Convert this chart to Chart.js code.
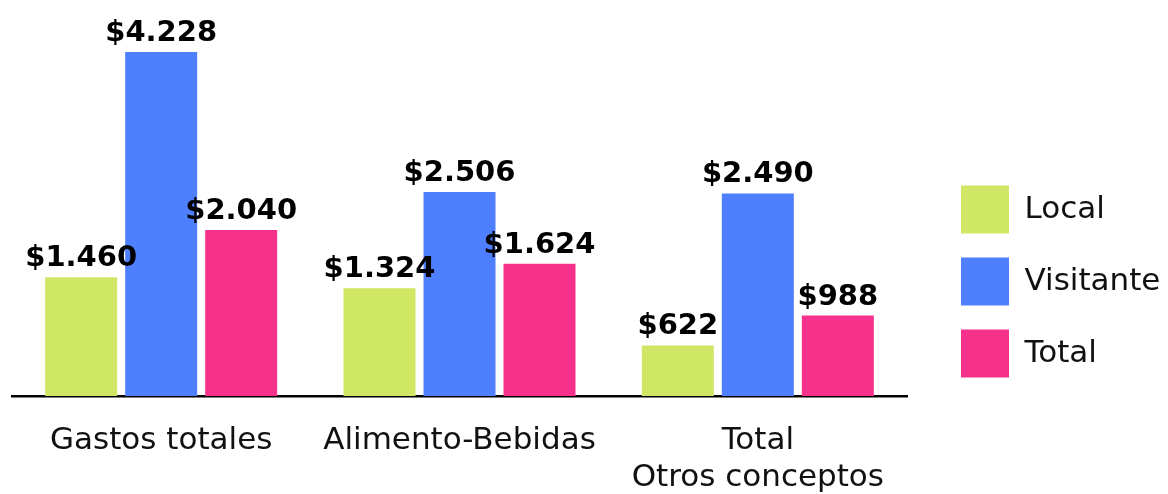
<!DOCTYPE html>
<html>
<head>
<meta charset="utf-8">
<script src="https://cdn.jsdelivr.net/npm/chart.js@4"></script>
<style>
  html, body { margin: 0; padding: 0; background: #fff; }
  #wrap { width: 1168px; height: 494px; position: relative; }
</style>
</head>
<body>
<div id="wrap"><canvas id="c" width="1168" height="494"></canvas></div>
<script>
const categories = ['Gastos totales', 'Alimento-Bebidas', ['Total', 'Otros conceptos']];
const seriesNames = ['Local', 'Visitante', 'Total'];
const localValues = [1460, 1324, 622];
const visitanteValues = [4228, 2506, 2490];
const totalValues = [2040, 1624, 988];
const seriesColors = ['#D0E665', '#4E7FFF', '#F6318B'];

const FONT = "'DejaVu Sans', sans-serif";

function fmt(v) {
  return '$' + String(v).replace(/\B(?=(\d{3})+(?!\d))/g, '.');
}

const valueLabels = {
  id: 'valueLabels',
  afterDatasetsDraw(chart) {
    const ctx = chart.ctx;
    ctx.save();
    ctx.font = 'bold 29px ' + FONT;
    ctx.fillStyle = '#000';
    ctx.textAlign = 'center';
    ctx.textBaseline = 'alphabetic';
    chart.data.datasets.forEach((ds, i) => {
      const meta = chart.getDatasetMeta(i);
      meta.data.forEach((el, j) => {
        ctx.fillText(fmt(ds.data[j]), el.x, el.y - 11);
      });
    });
    ctx.restore();
  }
};

const valueSets = [localValues, visitanteValues, totalValues];

new Chart(document.getElementById('c'), {
  type: 'bar',
  data: {
    labels: categories,
    datasets: seriesNames.map((name, i) => ({
      label: name,
      data: valueSets[i],
      backgroundColor: seriesColors[i],
      borderWidth: 0,
      categoryPercentage: 0.8045,
      barPercentage: 0.9
    }))
  },
  options: {
    responsive: false,
    animation: false,
    layout: { padding: { left: 12, top: 10, right: 0, bottom: 0 } },
    plugins: {
      tooltip: { enabled: false },
      legend: {
        position: 'right',
        align: 'center',
        maxWidth: 231,
        title: { display: true, text: ' ', font: { size: 10 }, padding: { top: 47, bottom: 0 } },
        labels: {
          boxWidth: 48,
          boxHeight: 48,
          padding: 24,
          color: '#111',
          font: { family: FONT, size: 31 }
        }
      }
    },
    scales: {
      x: {
        grid: { display: false, drawTicks: false },
        border: { display: true, color: '#000', width: 2.5 },
        ticks: { color: '#111', padding: 26, font: { family: FONT, size: 31 }, maxRotation: 0, autoSkip: false },
        afterFit(scale) { scale.height = 98; }
      },
      y: {
        position: 'right',
        min: 0,
        max: 4744,
        grid: { display: false, drawTicks: false },
        border: { display: false },
        ticks: { display: false },
        afterFit(scale) { scale.width = 30; }
      }
    }
  },
  plugins: [valueLabels]
});
</script>
</body>
</html>
